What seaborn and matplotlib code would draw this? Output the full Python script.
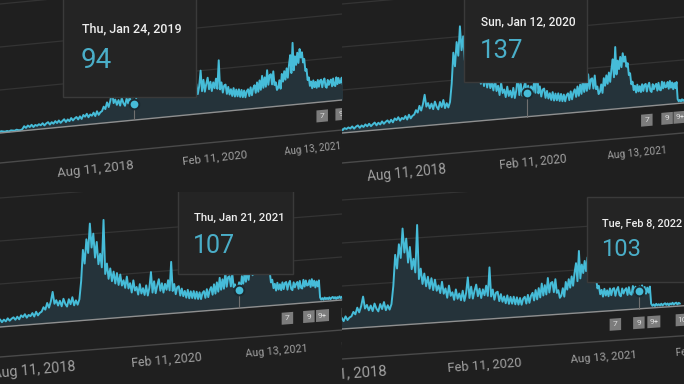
import numpy as np
import pandas as pd
import matplotlib
matplotlib.use("Agg")
import matplotlib.pyplot as plt
import matplotlib.dates as mdates
import seaborn as sns
from matplotlib.transforms import Affine2D
from matplotlib.patches import Rectangle

sns.set_theme(style="dark")
plt.rcParams["font.family"] = ["Roboto", "DejaVu Sans"]

# ---------------- data ----------------
SERIES_START = "2017-03-05"   # weekly samples
weekly_values = [
    # 2017
    4, 8, 5, 9, 6, 4, 7, 10, 5, 6, 9, 5, 4, 8, 7, 5, 9, 6, 8, 5, 4, 9, 6, 10, 7,
    5, 8, 4, 9, 7, 5, 10, 6, 5, 9,
    26, 15, 28, 18, 30, 16, 27, 21, 29,
    # 2018
    22, 33, 19, 30, 36, 21, 34, 24, 38, 26, 40, 25, 35, 44, 27, 41, 30, 47, 32, 43, 50, 35,
    52, 36, 58, 47, 63, 42, 57, 49, 66, 45, 72, 50, 64,
    70, 95, 80, 118, 90, 125, 180, 110, 130,
    98, 125, 92, 135, 105, 88, 130, 100, 140, 92, 120, 94, 125,
    # 2019
    230, 410, 330, 470, 390, 560, 420, 500, 360, 450, 320, 380,
    300, 575, 260, 320, 230, 290, 215, 270, 200, 260, 190, 250, 185,
    215, 170, 235, 165, 195, 140, 210, 150, 170, 125, 185, 130, 160,
    120, 175, 115, 160, 250, 130, 195, 125, 170,
    # 2020
    205, 137, 180, 125, 175, 140, 195, 135, 300, 130, 170, 110, 150,
    155, 100, 140, 95, 125, 85, 130, 80, 120, 80, 120, 75, 115,
    72, 110, 70, 105, 115, 75, 125, 78, 118, 135, 90, 150, 95,
    160, 105, 185, 115, 175, 120, 215, 130, 185, 190, 130, 205, 125,
    # 2021
    140, 95, 107, 150, 100, 185, 140, 200, 150, 215, 160, 235, 290,
    185, 360, 200, 280, 230, 300, 240, 320, 270, 300, 240, 260, 190,
    200, 135, 150, 100, 125, 85, 130, 90, 120, 85, 130, 90, 125,
    130, 85, 120, 135, 88, 80, 125, 95, 115, 125, 85, 130, 90,
    # 2022
    85, 135, 95, 130, 100, 103, 130, 90, 135, 95, 125, 85, 120,
    90, 125, 25, 12, 20, 10, 22, 12, 19,
    11, 21, 10, 18, 22, 12, 20, 9, 19, 13, 22, 11, 18, 21, 10, 19, 14,
]

tick_dates = ["2018-08-11", "2020-02-11", "2021-08-13", "2023-02-12"]
tick_labels = ["Aug 11, 2018", "Feb 11, 2020", "Aug 13, 2021", "Feb 12, 2023"]

badge_dates = ["2021-10-10", "2022-02-10", "2022-05-02", "2022-10-08"]
badge_labels = ["7", "9", "9+", "10"]

hover_dates = ["2019-01-24", "2020-01-12", "2021-01-21", "2022-02-08"]
hover_values = [94, 137, 107, 103]
hover_titles = ["Thu, Jan 24, 2019", "Sun, Jan 12, 2020", "Thu, Jan 21, 2021", "Tue, Feb 8, 2022"]

grid_values = [250, 500, 750]

dates = pd.date_range(SERIES_START, periods=len(weekly_values), freq="7D")
df = pd.DataFrame({"date": dates, "value": weekly_values})

# ---------------- style ----------------
BG = "#1f1f1f"
LINE = "#46bcd8"
FILL = "#25333a"
GRID = "#343434"
BASE = "#8f8f8f"
LOWER = "#4a4a4a"
LABEL = "#a0a0a0"
BOX = "#242424"
BOX_EDGE = "#3a3a3a"
NUM = "#4aaec8"

W, H = 684, 384
PW, PH = 342, 192
K = 0.172          # px per value unit
SPAN = 549.0       # days between date ticks

# per-panel camera: px of Feb 11 2020, px of next 549-day step, perspective ratio q
panels = [
    dict(col=0, row=0, rB=215, L=98, q=0.817, base_top=133, slope=0.0965,
         box=(63, -5, 196, 97), title_xy=(82, 29), num_xy=(81, 61), tfs=9.0, nfs=20),
    dict(col=1, row=0, rB=191, L=104, q=0.825, base_top=133, slope=0.088,
         box=(122, -5, 245, 82), title_xy=(139, 22), num_xy=(138, 51), tfs=8.6, nfs=18.5),
    dict(col=0, row=1, rB=167, L=110, q=0.827, base_top=135, slope=0.079,
         box=(178, -5, 293, 82), title_xy=(194, 26), num_xy=(193, 54), tfs=8.2, nfs=18),
    dict(col=1, row=1, rB=143, L=119, q=0.84, base_top=137, slope=0.068,
         box=(245, 5, 360, 90), title_xy=(260, 32), num_xy=(259, 58), tfs=7.8, nfs=17),
]

tB = mdates.date2num(pd.Timestamp("2020-02-11"))


def make_scale(q):
    lnq = np.log(q)

    def fwd(t):
        u = (np.asarray(t, dtype=float) - tB) / SPAN
        return (1.0 - np.exp(lnq * u)) / (1.0 - q)

    def inv(y):
        y = np.asarray(y, dtype=float)
        with np.errstate(invalid="ignore", divide="ignore"):
            return tB + SPAN * np.log(1.0 - y * (1.0 - q)) / lnq

    return fwd, inv


fig = plt.figure(figsize=(W / 100, H / 100), dpi=100, facecolor=BG)

for i, p in enumerate(panels):
    ax = fig.add_axes([p["col"] * 0.5, (1 - p["row"]) * 0.5, 0.5, 0.5])
    ax.set_facecolor(BG)
    q, L, rB = p["q"], p["L"], p["rB"]
    fwd, inv = make_scale(q)
    ax.set_xscale("function", functions=(fwd, inv))

    def px_per_span(t, q=q, L=L):
        u = (t - tB) / SPAN
        return L * (-np.log(q)) * q ** u / (1.0 - q)

    X0 = p["col"] * PW
    ang = np.arctan(p["slope"])
    tr = ax.transData + Affine2D().translate(-X0, 0).skew(0, ang).translate(X0, 0)

    xmin = float(inv((0 - rB) / L))
    xmax = float(inv((PW - rB) / L))
    h0 = PH - p["base_top"]
    ext = [xmin - 300, xmax + 300]

    # grid lines
    for g in grid_values:
        ax.plot(ext, [g, g], color=GRID, lw=0.9, transform=tr, zorder=1)

    # area + line
    ax.fill_between(df["date"], 0, df["value"], color=FILL, lw=0, transform=tr, zorder=2)
    sns.lineplot(data=df, x="date", y="value", ax=ax, color=LINE, lw=1.4, zorder=3)
    ax.lines[-1].set_transform(tr)

    # baseline and lower axis line
    ax.plot(ext, [0, 0], color=BASE, lw=1.0, transform=tr, zorder=4)
    ax.plot(ext, [-30 / K] * 2, color=LOWER, lw=1.0, transform=tr, zorder=4)

    # date tick labels (shrink with distance)
    for d, lab in zip(tick_dates, tick_labels):
        dn = mdates.date2num(pd.Timestamp(d))
        fs = 9.5 * (px_per_span(dn) / 132.0) ** 0.75
        ax.text(dn, -46 / K, lab, transform=tr, rotation=np.degrees(ang) * 1.1,
                rotation_mode="anchor", ha="center", va="center", color=LABEL,
                fontsize=fs, clip_on=True, zorder=5)

    # badges
    for d, lab in zip(badge_dates, badge_labels):
        dn = mdates.date2num(pd.Timestamp(d))
        ppd = px_per_span(dn) / SPAN
        bw = 13 if len(lab) > 1 else 11.5
        ax.add_patch(Rectangle((dn - bw / 2 / ppd, -14 / K - 6 / K), bw / ppd, 12 / K,
                               transform=tr, fc="#7c7c7c", ec="none", zorder=5, clip_on=True))
        ax.text(dn, -14 / K, lab, transform=tr, ha="center", va="center", color="#dcdcdc",
                fontsize=6, zorder=6, clip_on=True)

    # hover marker
    hd = mdates.date2num(pd.Timestamp(hover_dates[i]))
    hv = hover_values[i]
    ax.plot([hd, hd], [0, hv], color="#707070", lw=0.8, transform=tr, zorder=6)
    ax.plot([hd], [hv], marker="o", ms=7, mfc=LINE, mec="#1c2a30", mew=1.4,
            transform=tr, zorder=7)

    ax.set_xlim(xmin, xmax)
    ax.set_ylim(-h0 / K, (PH - h0) / K)
    ax.set_axis_off()

    # tooltip
    x0, y0, x1, y1 = p["box"]
    ax.add_patch(Rectangle((x0 / PW, 1 - y1 / PH), (x1 - x0) / PW, (y1 - y0) / PH,
                           transform=ax.transAxes, fc=BOX, ec=BOX_EDGE, lw=1.0,
                           zorder=10, clip_on=True))
    tx, ty = p["title_xy"]
    ax.text(tx / PW, 1 - ty / PH, hover_titles[i], transform=ax.transAxes, ha="left",
            va="center", color="#eeeeee", fontsize=p["tfs"], fontweight="medium", zorder=11)
    nx, ny = p["num_xy"]
    ax.text(nx / PW, 1 - ny / PH, str(hover_values[i]), transform=ax.transAxes, ha="left",
            va="center", color=NUM, fontsize=p["nfs"], fontweight="normal", zorder=11)

fig.savefig("out.png", dpi=100, facecolor=BG)
